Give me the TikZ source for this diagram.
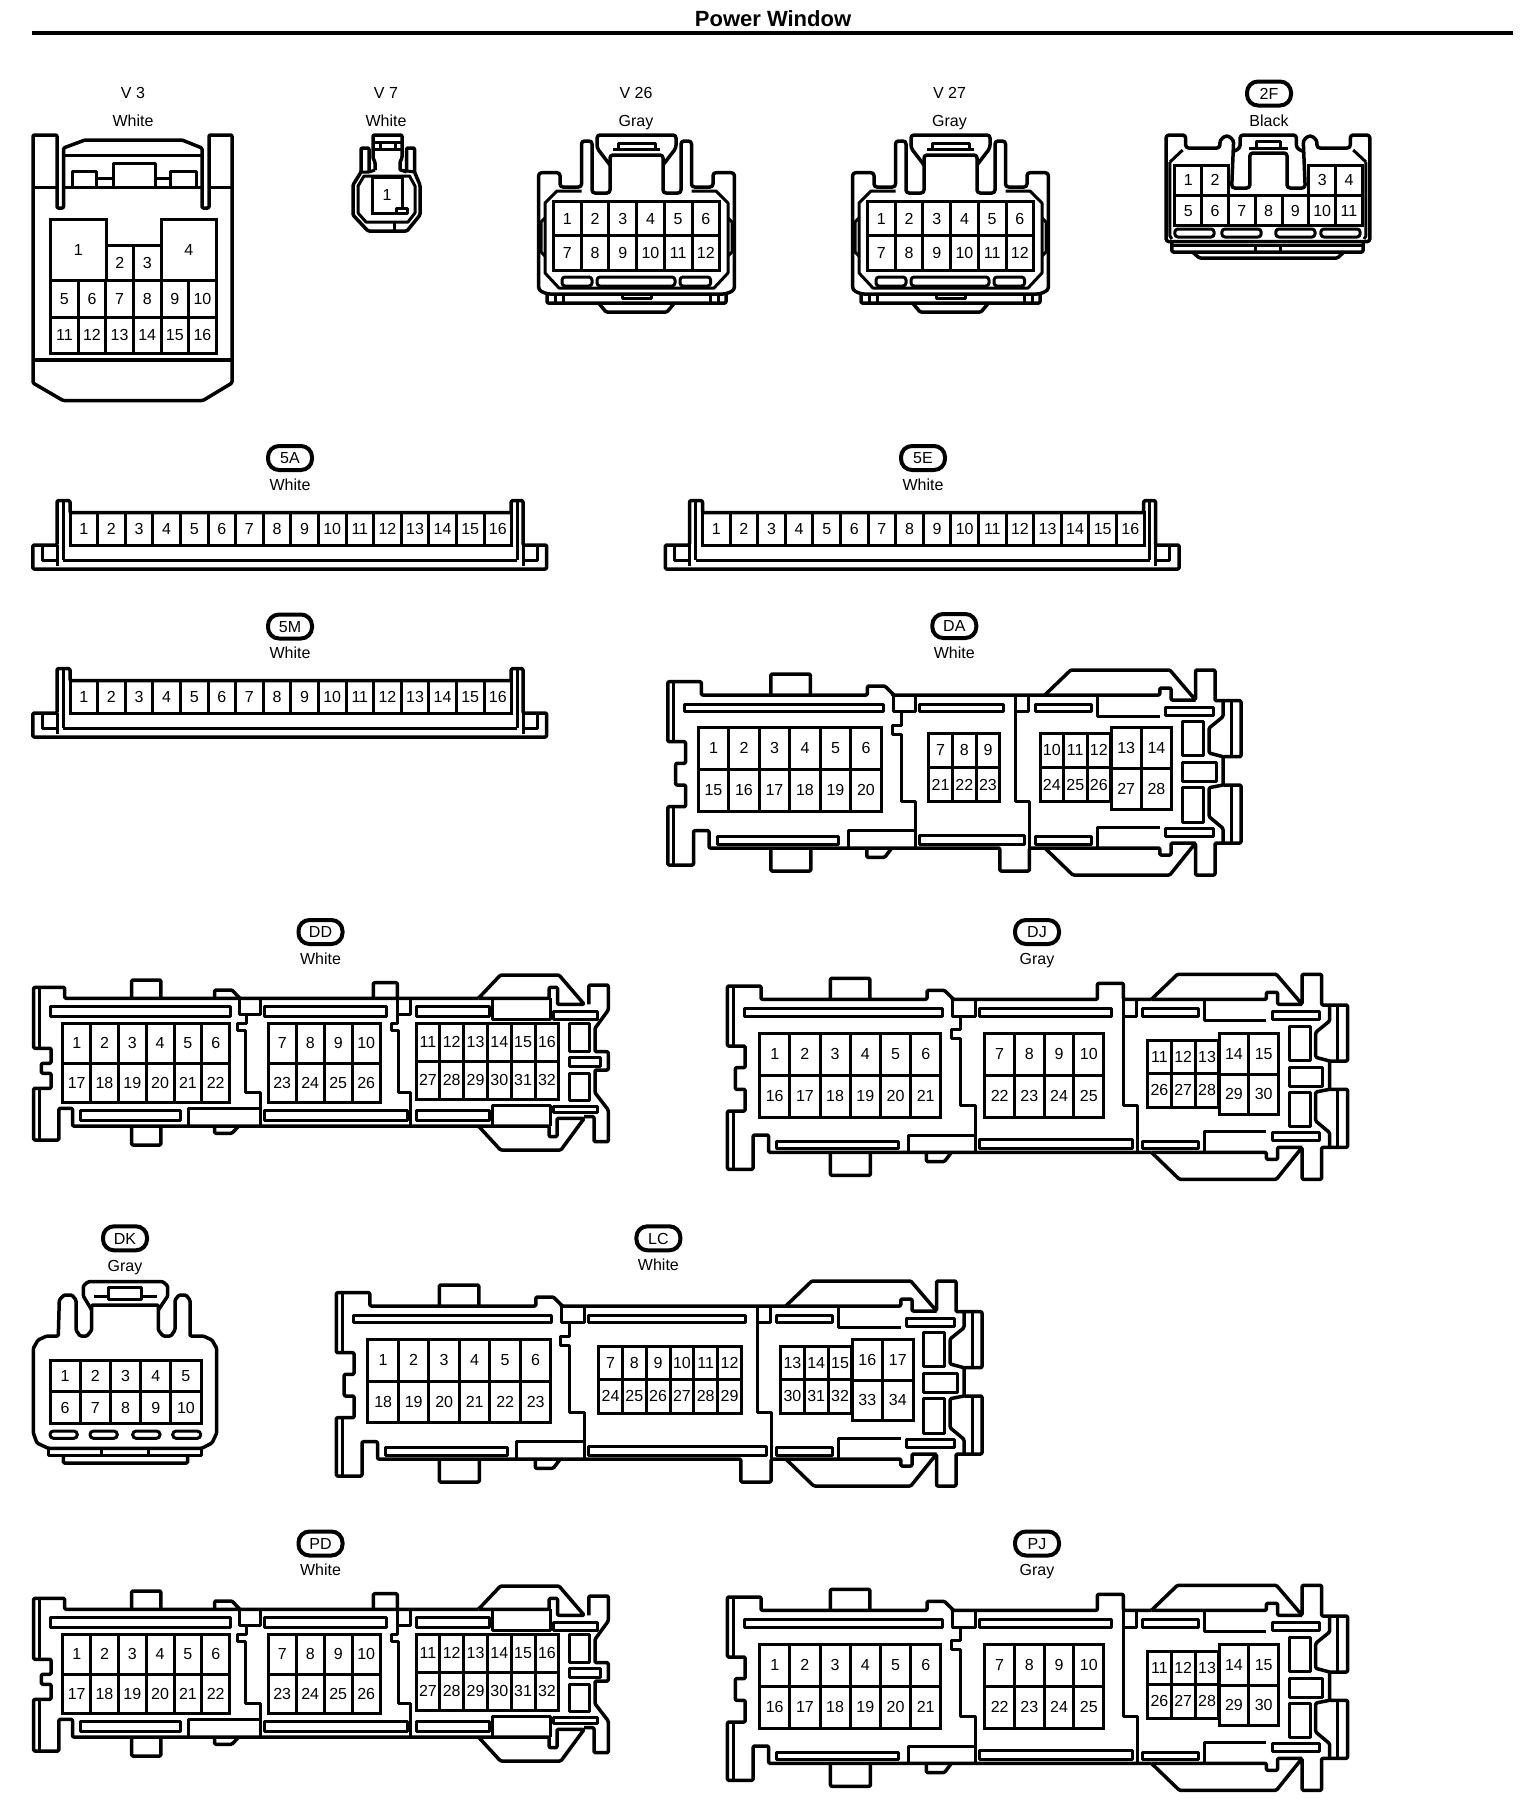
\documentclass[tikz,border=0pt]{standalone}
\usepackage{fontspec}
\setmainfont{Liberation Sans}
\tikzset{
  shell/.style={line width=3.5pt,line join=round,rounded corners=1.2pt},
  inner/.style={line width=3pt,line join=round},
  slot/.style={line width=3pt,line join=round,rounded corners=1pt},
  oval/.style={line width=3pt,rounded corners=3.5pt},
  cavity/.style={draw,line width=3pt,rectangle,inner sep=0pt,outer sep=0pt,font=\fontsize{16}{18}\selectfont},
  tag/.style={draw,line width=4pt,rectangle,rounded corners=11pt,minimum width=44pt,minimum height=24pt,inner sep=0pt,text height=11.5pt,text depth=0pt,font=\fontsize{16}{18}\selectfont},
  caption/.style={inner sep=0pt,text height=11.5pt,text depth=2.3pt,font=\fontsize{16}{18}\selectfont},
}
\newcommand{\cavityrow}[6]{%
  \foreach \pn [count=\cidx from 0] in {#6} {
    \node[cavity,minimum width=#4,minimum height=#5] (#1-\pn) at ({#2+(\cidx+0.5)*#4},{#3+0.5*#5}) {\pn};
  }
}
\newcommand{\tallright}{%
  \draw[shell] (377,25) -- (403,0) -- (502,0) -- (527.7,30) -- (527.7,0) -- (547.2,0) -- (547.2,30.7) -- (573.2,30.7) -- (573.2,86.7) -- (555.2,86.7) -- (555.2,115) -- (573.2,115) -- (573.2,173) -- (547.2,173) -- (547.2,205) -- (527.7,205) -- (527.7,173) -- (502,205) -- (405,205) -- (377,178);
  \draw[shell] (555.2,30.7) -- (555.2,46.7) -- (541.3,58) -- (541.3,83) -- (555.2,86.7);
  \draw[shell] (555.2,115) -- (541.3,117.7) -- (541.3,146.7) -- (555.2,158.3) -- (555.2,173);
  \draw[inner] (563.2,30.7) -- (563.2,86.7) (563.2,115) -- (563.2,173);
  \draw[shell] (377,25) -- (492,25) -- (492,18) -- (503.2,18) -- (503.2,30) -- (527.7,30);
  \draw[shell] (377,178) -- (492,178) -- (492,185) -- (503.2,185) -- (503.2,173) -- (527.7,173);
  \draw[inner] (367.6,34) rectangle (423.7,41.7);
  \draw[inner] (367.6,166.7) rectangle (423.7,174);
  \draw[inner] (429.6,25) -- (429.6,46) -- (492,46);
  \draw[inner] (429.6,178) -- (429.6,157.3) -- (492,157.3);
  \draw[inner] (498,37) rectangle (545.2,45);
  \draw[inner] (498,158) rectangle (545.2,166);
  \draw[inner] (514.6,51.7) rectangle (535.6,85.7);
  \draw[inner] (514.6,92.7) rectangle (548.2,111.7);
  \draw[inner] (514.6,117.7) rectangle (535.6,152.3);
}
\newcommand{\tallshell}[4]{%
  \draw[shell] ({377+#1},178) #4 -- (41.2,178) -- (41.2,160.7) -- (25.7,160.7) -- (25.7,195) -- (0,195) -- (0,136.7) -- (17.8,136.7) -- (17.8,115) -- (7.9,115) -- (7.9,93.3) -- (17.8,93.3) -- (17.8,71.7) -- (0,71.7) -- (0,11.7) -- (33.6,11.7) -- (33.6,25) -- (199.6,25) -- (199.6,16) -- (217,16) -- (225.2,24) -- (225.2,25) #3 -- ({377+#1},25);
  \draw[inner] (6,11.7) -- (6,71.7) (6,136.7) -- (6,195);
  \draw[shell] (103,25) -- (103,4) -- (142.5,4) -- (142.5,25);
  \draw[shell] (103,178) -- (103,201) -- (143,201) -- (143,178);
  \draw[shell] (199,178) -- (199,187.3) -- (217,187.3) -- (224,178);
  \draw[inner] (225.2,25) -- (225.2,41.7) -- (247.8,41.7) -- (247.8,25);
  \draw[inner] (233.2,41.7) -- (233.2,55) -- (224.2,55) -- (224.2,64) -- (233.2,64) -- (233.2,131) -- (247.8,131) -- (247.8,178);
  \draw[inner] (180.6,178) -- (180.6,160.7) -- (247.8,160.7);
  \draw[inner] (#2,25) -- (#2,131) -- ({#2+13.8},131) -- ({#2+13.8},178);
  \draw[inner] (#2,41.7) -- ({#2+13},41.7) -- ({#2+13},25);
  \draw[inner] (17,34) rectangle (215.4,41.7);
  \draw[inner] (252,34) rectangle ({#2-12},41.7);
  \draw[inner] (49.5,166.7) rectangle (171,174);
  \draw[inner] (252,165) rectangle ({#2+9.3},174);
  \begin{scope}[shift={(#1,0)}]
    \tallright
  \end{scope}
}
\newcommand{\ddconn}[2]{%
  \begin{scope}[shift={(0,#2)}]
    \draw[shell] (478.4,998.3) -- (64.7,998.3) -- (64.7,987.3) -- (33.6,987.3) -- (33.6,1048.3) -- (51.1,1048.3) -- (51.1,1063.3) -- (41.4,1063.3) -- (41.4,1073.3) -- (51.1,1073.3) -- (51.1,1088.3) -- (33.6,1088.3) -- (33.6,1140) -- (58.9,1140) -- (58.9,1108.3) -- (72.5,1108.3) -- (72.5,1126) -- (478.4,1126) -- (500.5,1150) -- (560.9,1150) -- (584.2,1118.3) -- (557,1118.3) -- (557,1136.7) -- (549.2,1136.7) -- (549.2,1126) -- (478.4,1126);
    \draw[shell] (478.4,998.3) -- (500.5,975) -- (559,975) -- (584.2,1004.3) -- (557.5,1004.3) -- (557.5,987.3) -- (549.2,987.3) -- (549.2,998.3) -- (478.4,998.3);
    \draw[shell] (588.9,1004.3) -- (588.9,985) -- (608.3,985) -- (608.3,1010) -- (595,1028.3) -- (595,1051.7) -- (608.3,1051.7) -- (608.3,1070) -- (595,1070) -- (595,1092.7) -- (608.3,1110) -- (608.3,1141.7) -- (594,1141.7) -- (594,1116.7) -- (584.2,1116.7);
    \draw[inner] (39.5,987.3) -- (39.5,1048.3) (39.5,1088.3) -- (39.5,1140);
    \draw[shell] (131.7,998.3) -- (131.7,980) -- (160.9,980) -- (160.9,998.3);
    \draw[shell] (131.7,1126) -- (131.7,1145) -- (160.9,1145) -- (160.9,1126);
    \draw[shell] (214.6,998.3) -- (214.6,990) -- (232,990) -- (239.8,998.3);
    \draw[shell] (214.6,1126) -- (214.6,1133.3) -- (232,1133.3) -- (238.7,1126);
    \draw[shell] (373.3,998.3) -- (373.3,982.7) -- (397.4,982.7) -- (397.4,998.3);
    \draw[inner] (239.8,998.3) -- (239.8,1014) -- (260.5,1014) -- (260.5,998.3);
    \draw[inner] (246.5,1014) -- (246.5,1023.3) -- (237.9,1023.3) -- (237.9,1030.7) -- (245.7,1030.7) -- (245.7,1092.7) -- (260.5,1092.7) -- (260.5,1126);
    \draw[inner] (397.4,998.3) -- (397.4,1023.3) -- (391.6,1023.3) -- (391.6,1030.7) -- (398,1030.7) -- (398,1092.7) -- (410.3,1092.7) -- (410.3,1126);
    \draw[inner] (397.4,1014) -- (410.3,1014) -- (410.3,998.3);
    \draw[inner] (50.4,1006) rectangle (230,1016);
    \draw[inner] (264,1006) rectangle (386.5,1016);
    \draw[inner] (416,1006) rectangle (489,1016);
    \draw[inner] (492.8,998.3) -- (492.8,1019.3) -- (550,1019.3) -- (550,998.3);
    \draw[inner] (553,1011) rectangle (597.8,1019);
    \draw[inner] (80.3,1110.7) rectangle (180.3,1120.7);
    \draw[inner] (264,1110.7) rectangle (407,1120.7);
    \draw[inner] (416,1110.7) rectangle (489,1120.7);
    \draw[inner] (188,1126) -- (188,1108.3) -- (260.5,1108.3);
    \draw[inner] (492.8,1126) -- (492.8,1105) -- (550,1105) -- (550,1126);
    \draw[inner] (553,1106) rectangle (597.8,1112.3);
    \draw[inner] (569.4,1023.3) rectangle (589,1051.7);
    \draw[inner] (569.4,1057.3) rectangle (600.5,1066.7);
    \draw[inner] (569.4,1073.3) rectangle (589,1100.7);
    \cavityrow{#1}{62.8}{1023.3}{27.8}{39.7}{1,...,6}
    \cavityrow{#1}{62.8}{1063}{27.8}{39.7}{17,...,22}
    \cavityrow{#1}{268.2}{1023.3}{28}{39.7}{7,...,10}
    \cavityrow{#1}{268.2}{1063}{28}{39.7}{23,...,26}
    \cavityrow{#1}{416}{1023.3}{23.8}{37.7}{11,...,16}
    \cavityrow{#1}{416}{1061}{23.8}{38.3}{27,...,32}
  \end{scope}
}
\newcommand{\djconn}[2]{%
  \begin{scope}[shift={(727.4,{974.3+#2})}]
    \tallshell{47}{396}{-- (370,25) -- (370,9) -- (396,9) -- (396,25)}{}
  \end{scope}
  \begin{scope}[shift={(0,#2)}]
    \cavityrow{#1}{759.6}{1033.3}{30.2}{41.8}{1,...,6}
    \cavityrow{#1}{759.6}{1075}{30.2}{42.3}{16,...,21}
    \cavityrow{#1}{984.8}{1033.3}{29.7}{41.8}{7,...,10}
    \cavityrow{#1}{984.8}{1075}{29.7}{42.3}{22,...,25}
    \cavityrow{#1}{1147.5}{1040}{23.8}{33.4}{11,12,13}
    \cavityrow{#1}{1147.5}{1073.4}{23.8}{33.8}{26,27,28}
    \cavityrow{#1}{1219}{1033.3}{29.8}{40.7}{14,15}
    \cavityrow{#1}{1219}{1074}{29.8}{40}{29,30}
  \end{scope}
}
\newcommand{\vtwelve}[2]{%
  \begin{scope}[shift={(#2,0)}]
    \draw[shell,rounded corners=3pt] (563,187) -- (563,172.7) -- (541.6,172.7) -- (541.6,290) -- (550,294) -- (729,294) -- (737.4,290) -- (737.4,172.7) -- (716,172.7) -- (716,187) -- (694.5,187) -- (694.5,141) -- (684,141) -- (684,193) -- (666,193) -- (666,155) -- (613,155) -- (613,193) -- (595,193) -- (595,141) -- (584.5,141) -- (584.5,187) -- cycle;
    \draw[shell,rounded corners=3pt] (613,165) -- (600,148) -- (600,135) -- (679,135) -- (679,148) -- (666,165);
    \draw[inner] (621,149) -- (621,143) -- (658,143) -- (658,149) (616,149) -- (663,149);
    \draw[inner] (584.5,191) -- (560,191) -- (548,203) -- (548,273) -- (562,288) -- (717,288) -- (731,273) -- (731,203) -- (719,191) -- (694.5,191);
    \draw[inner] (548,218) -- (544,222) -- (544,252) -- (548,256) (731,218) -- (735,222) -- (735,252) -- (731,256);
    \draw[slot,rounded corners=3pt] (565,277) rectangle (595,286);
    \draw[slot,rounded corners=3pt] (600,277) rectangle (678,286);
    \draw[slot,rounded corners=3pt] (683,277) rectangle (713.6,286);
    \draw[shell] (550,294) -- (550,303) -- (729,303) -- (729,294);
    \draw[shell] (601.6,303) -- (609,312) -- (670,312) -- (677.5,303);
    \draw[inner] (558,294) -- (558,303) (566,294) -- (566,303) (713,294) -- (713,303) (721,294) -- (721,303);
    \draw[inner] (625,294) -- (625,298) -- (654,298) -- (654,294);
    \cavityrow{#1}{556.5}{201.7}{27.7}{34}{1,...,6}
    \cavityrow{#1}{556.5}{235.7}{27.7}{35}{7,...,12}
  \end{scope}
}
\newcommand{\flatconn}[3]{%
  \begin{scope}[shift={(#2,#3)}]
    \draw[shell] (57,512.7) -- (57,500.7) -- (70,500.7) -- (70,512.7) -- (511.2,512.7) -- (511.2,500.7) -- (523,500.7) -- (523,545) -- (546.6,545) -- (546.6,569) -- (32.8,569) -- (32.8,545) -- (57,545) -- cycle;
    \draw[inner] (63,500.7) -- (63,560) (517,500.7) -- (517,560);
    \draw[inner] (57,545) -- (57,566) (523,545) -- (523,566);
    \draw[inner] (42,545) -- (42,560) -- (57,560) (523,560) -- (537,560) -- (537,545);
    \draw[inner] (63,560) -- (517,560);
    \cavityrow{#1}{70}{512.7}{27.6}{32.3}{1,...,16}
  \end{scope}
}
\begin{document}
\begin{tikzpicture}[x=1pt,y=-1pt]
  \useasboundingbox (0,0) rectangle (1536,1812);
  \node[inner sep=0pt,font=\bfseries\fontsize{22}{24}\selectfont] (title) at (773,18.5) {Power Window};
  \draw[line width=4pt] (32,33) -- (1513,33);

  \node[caption] (v3-name) at (133,94) {V 3};
  \node[caption] (v3-color) at (133,121.5) {White};
  \draw[shell] (57,135) -- (33,135) -- (33,383) -- (63,400.5) -- (203,400.5) -- (232,383) -- (232,135) -- (209,135) -- (209,208) -- (202,208) -- (202,148) -- (182,140) -- (85,140) -- (63.5,148) -- (63.5,208) -- (57,208) -- cycle;
  \draw[inner] (33,187) -- (57,187) (63.5,187) -- (202,187) (209,187) -- (232,187) (63.5,155) -- (202,155);
  \draw[line width=4pt] (33,360) -- (232,360);
  \draw[inner] (72,187) -- (72,171) -- (96,171) -- (96,187) (113,187) -- (113,163) -- (155,163) -- (155,187) (170,187) -- (170,171) -- (196,171) -- (196,187) (96,178) -- (113,178) (155,178) -- (170,178);
  \node[cavity,minimum width=55.4,minimum height=61] (v3-1) at (78.3,249.5) {1};
  \node[cavity,minimum width=55,minimum height=61] (v3-4) at (188.7,249.5) {4};
  \cavityrow{v3}{106}{245.7}{27.6}{34.3}{2,3}
  \cavityrow{v3}{50.6}{280}{27.6}{37.7}{5,...,10}
  \cavityrow{v3}{50.6}{317.7}{27.6}{35.3}{11,...,16}

  \node[caption] (v7-name) at (386,94) {V 7};
  \node[caption] (v7-color) at (386,121.5) {White};
  \draw[shell] (375,170) -- (375,162) -- (373,158) -- (373,135) -- (402,135) -- (402,158) -- (400,162) -- (400,170);
  \draw[shell] (369,172) -- (369,148) -- (361,148) -- (361,172) -- (353,185) -- (353,215) -- (368,231) -- (407,231) -- (420,215) -- (420,185) -- (414.5,172) -- (414.5,148) -- (406.5,148) -- (406.5,172);
  \draw[inner] (361,172) -- (369,172) -- (375,170) (406.5,172) -- (400,170) -- (414.5,172);
  \draw[inner] (373,142) -- (402,142) (373,149) -- (402,149) (380,142) -- (380,149) (395,142) -- (395,149);
  \draw[inner] (358,186) -- (358,213) -- (366,222) -- (408,222) -- (415,213) -- (415,186) -- (409.5,176) -- (364,176) -- cycle;
  \draw[inner] (394,222) -- (394,231);
  \node[cavity,minimum width=30,minimum height=36] (v7-1) at (387,195) {1};
  \draw[inner,fill=white] (396.5,208) rectangle (407,213);

  \node[caption] (v26-name) at (636,94) {V 26};
  \node[caption] (v26-color) at (636,121.5) {Gray};
  \vtwelve{v26}{-3}
  \node[caption] (v27-name) at (949.5,94) {V 27};
  \node[caption] (v27-color) at (949.5,121.5) {Gray};
  \vtwelve{v27}{311}

  \node[tag] (2f-tag) at (1269,93.5) {2F};
  \node[caption] (2f-color) at (1269,121.5) {Black};
  \begin{scope}[x=0.98pt,xshift=21.4pt]
    \draw[shell,rounded corners=3pt] (1188,148) -- (1188,135) -- (1168,135) -- (1168,241.7) -- (1376,241.7) -- (1376,135) -- (1356,135) -- (1356,148) -- (1322,148) -- (1322,140) -- (1315,135) -- (1308,140) -- (1310,188) -- (1291.5,188) -- (1291.5,153) -- (1253.5,153) -- (1253.5,188) -- (1235,188) -- (1237,140) -- (1230,135) -- (1223,140) -- (1223,148) -- cycle;
    \draw[shell,rounded corners=3pt] (1236,152) -- (1243.6,148) -- (1243.6,135) -- (1301,135) -- (1301,148) -- (1309,152);
    \draw[inner] (1260,148) -- (1260,141) -- (1285,141) -- (1285,148) (1252.5,148) -- (1292.5,148);
    \draw[inner] (1172,162) -- (1185,150) (1372,162) -- (1359,150) (1172,162) -- (1172,236) -- (1174,239) (1372,162) -- (1372,236) -- (1370,239);
    \draw[slot,rounded corners=3pt] (1177,229) rectangle (1217,237);
    \draw[slot,rounded corners=3pt] (1225,229) rectangle (1265,237);
    \draw[slot,rounded corners=3pt] (1280,229) rectangle (1320,237);
    \draw[slot,rounded corners=3pt] (1326,229) rectangle (1366,237);
    \draw[shell] (1174,241.7) -- (1174,252) -- (1369,252) -- (1369,241.7);
    \draw[inner] (1174,245) -- (1369,245) (1259,245) -- (1259,252) (1285,245) -- (1285,252);
    \draw[shell] (1195,252) -- (1202,258) -- (1343,258) -- (1349.5,252);
  \end{scope}
  \cavityrow{2f}{1174.8}{165}{26.8}{30.7}{1,2}
  \cavityrow{2f}{1308.8}{165}{26.8}{30.7}{3,4}
  \cavityrow{2f}{1174.8}{195.7}{26.8}{30}{5,...,11}

  \node[tag] (5a-tag) at (290,458) {5A};
  \node[caption] (5a-color) at (290,486) {White};
  \flatconn{5a}{0}{0}
  \node[tag] (5e-tag) at (923,458) {5E};
  \node[caption] (5e-color) at (923,486) {White};
  \flatconn{5e}{632.5}{0}
  \node[tag] (5m-tag) at (290,626.5) {5M};
  \node[caption] (5m-color) at (290,654) {White};
  \flatconn{5m}{0}{168}

  \node[tag] (da-tag) at (954.3,626) {DA};
  \node[caption] (da-color) at (954.3,654) {White};
  \begin{scope}[shift={(667.8,670)}]
    \tallshell{0}{347.8}{}{-- (361.6,178) -- (361.6,201) -- (332,201) -- (332,178)}
  \end{scope}
  \cavityrow{da}{698.2}{727.3}{30.5}{41.7}{1,...,6}
  \cavityrow{da}{698.2}{769}{30.5}{42.7}{15,...,20}
  \cavityrow{da}{928.7}{733.3}{23.7}{34}{7,8,9}
  \cavityrow{da}{928.7}{767.3}{23.7}{34.4}{21,22,23}
  \cavityrow{da}{1040}{733.3}{23.5}{34}{10,11,12}
  \cavityrow{da}{1040}{767.3}{23.5}{34.4}{24,25,26}
  \cavityrow{da}{1111}{727.3}{30.3}{41}{13,14}
  \cavityrow{da}{1111}{768.3}{30.3}{40.7}{27,28}

  \node[tag] (dd-tag) at (320.5,932) {DD};
  \node[caption] (dd-color) at (320.5,959.5) {White};
  \ddconn{dd}{0}
  \node[tag] (dj-tag) at (1037,932) {DJ};
  \node[caption] (dj-color) at (1037,959.5) {Gray};
  \djconn{dj}{0}

  \node[tag] (dk-tag) at (125,1238.3) {DK};
  \node[caption] (dk-color) at (125,1266.5) {Gray};
  \draw[shell] (58.3,1336) -- (46.7,1336) -- (38,1340) -- (33.3,1348.3) -- (33.3,1433) -- (37,1443) -- (48.3,1448.3) -- (201.7,1448.3) -- (212,1443) -- (216.7,1433) -- (216.7,1348.3) -- (212,1340) -- (203.3,1336) -- (190,1336) -- (190,1300) -- (186,1295) -- (179,1295) -- (175,1300) -- (175,1330) -- (171,1336) -- (163,1336) -- (158.3,1330) -- (158.3,1305) -- (91.7,1305) -- (91.7,1330) -- (87,1336) -- (80,1336) -- (76,1330) -- (76,1300) -- (72,1295) -- (64,1295) -- (59.3,1300) -- cycle;
  \draw[shell] (91.7,1310) -- (83.3,1296) -- (83.3,1286) -- (88,1281.7) -- (163,1281.7) -- (167.7,1286) -- (167.7,1296) -- (158.3,1310);
  \draw[inner] (94,1296) -- (108.3,1296) (141.7,1296) -- (156.7,1296);
  \draw[inner] (108.3,1287.7) rectangle (141.7,1299.3);
  \cavityrow{dk}{50}{1360}{30.2}{31.7}{1,...,5}
  \cavityrow{dk}{50}{1391.7}{30.2}{31.6}{6,...,10}
  \draw[oval] (50,1431) rectangle (77.3,1438.3);
  \draw[oval] (90,1431) rectangle (117.3,1438.3);
  \draw[oval] (132.7,1431) rectangle (160,1438.3);
  \draw[oval] (172.7,1431) rectangle (200.7,1438.3);
  \draw[inner] (48.3,1448.3) -- (48.3,1455) -- (201.7,1455) -- (201.7,1448.3) (101,1448.3) -- (101,1455) (148.3,1448.3) -- (148.3,1455);
  \draw[shell] (63.3,1455) -- (63.3,1463) -- (187.7,1463) -- (187.7,1455);

  \node[tag] (lc-tag) at (658.4,1238.3) {LC};
  \node[caption] (lc-color) at (658.4,1266) {White};
  \begin{scope}[shift={(336.3,1281)}]
    \tallshell{72.5}{421}{}{-- (434.8,178) -- (434.8,201) -- (404.5,201) -- (404.5,178)}
  \end{scope}
  \cavityrow{lc}{367.9}{1339.3}{30.5}{41.7}{1,...,6}
  \cavityrow{lc}{367.9}{1381}{30.5}{41.7}{18,...,23}
  \cavityrow{lc}{598.6}{1346}{23.8}{33.3}{7,...,12}
  \cavityrow{lc}{598.6}{1379.3}{23.8}{34}{24,...,29}
  \cavityrow{lc}{780.5}{1346}{23.8}{33.3}{13,14,15}
  \cavityrow{lc}{780.5}{1379.3}{23.8}{34}{30,31,32}
  \cavityrow{lc}{852}{1339.3}{30.5}{40.7}{16,17}
  \cavityrow{lc}{852}{1380}{30.5}{40.7}{33,34}

  \node[tag] (pd-tag) at (320.5,1543.5) {PD};
  \node[caption] (pd-color) at (320.5,1571) {White};
  \ddconn{pd}{611}
  \node[tag] (pj-tag) at (1037,1543.5) {PJ};
  \node[caption] (pj-color) at (1037,1571) {Gray};
  \djconn{pj}{611}
\end{tikzpicture}
\end{document}
